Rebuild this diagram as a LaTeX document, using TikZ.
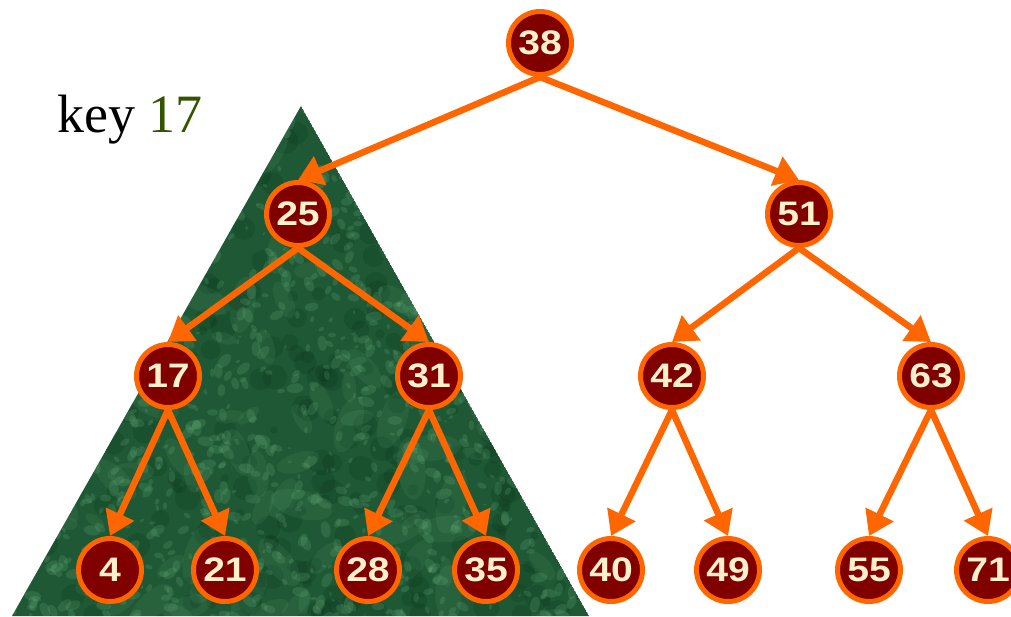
\documentclass[tikz,border=0pt]{standalone}
\usepackage{fontspec}
\setmainfont{Liberation Serif}
\newfontfamily\numfont[FakeStretch=1.15]{Liberation Sans}
\usetikzlibrary{arrows.meta}
\definecolor{nodefill}{RGB}{128,0,0}
\definecolor{nodeline}{RGB}{255,102,0}
\definecolor{numtext}{RGB}{255,240,205}
\definecolor{keygreen}{RGB}{50,85,0}
\definecolor{marbledark}{RGB}{30,88,52}
\definecolor{marblelight}{RGB}{120,190,140}
\definecolor{marbledeep}{RGB}{10,52,26}
\pgfdeclarelayer{tri}
\pgfdeclarelayer{edges}
\pgfsetlayers{tri,edges,main}
\tikzset{
  bst/.style={circle, minimum size=63pt, inner sep=0pt, fill=nodefill, draw=nodeline,
    line width=5pt, text=numtext, font=\numfont\bfseries\fontsize{34}{34}\selectfont},
  link/.style={draw=nodeline, line width=6.5pt, -{Triangle[length=24pt,width=30pt]}},
}
\begin{document}
\begin{tikzpicture}[x=1pt,y=-1pt]
\useasboundingbox (0,0) rectangle (1011,616);
% tree nodes
\node[bst] (n38) at (540,43) {38};
\node[bst] (n25) at (298,214) {25};
\node[bst] (n51) at (799,214) {51};
\node[bst] (n17) at (168,376) {17};
\node[bst] (n31) at (429,376) {31};
\node[bst] (n42) at (672,376) {42};
\node[bst] (n63) at (931,376) {63};
\node[bst] (n4) at (110,570) {4};
\node[bst] (n21) at (225,570) {21};
\node[bst] (n28) at (368,570) {28};
\node[bst] (n35) at (486,570) {35};
\node[bst] (n40) at (611,570) {40};
\node[bst] (n49) at (728,570) {49};
\node[bst] (n55) at (869,570) {55};
\node[bst] (n71) at (988,570) {71};
% label
\node[anchor=base west, inner sep=0pt, font=\fontsize{54}{54}\selectfont] (key) at (57,132) {key \textcolor{keygreen}{17}};
% marble triangle
\begin{pgfonlayer}{tri}
\coordinate (apex) at (301,106);
\coordinate (bl) at (12,616);
\coordinate (br) at (589,616);
\begin{scope}
\clip (apex) -- (bl) -- (br) -- cycle;
\fill[marbledark] (apex) -- (bl) -- (br) -- cycle;
\pgfmathsetseed{17}
\foreach \i in {1,...,400} {
  \pgfmathsetmacro{\rx}{10+580*rnd}
  \pgfmathsetmacro{\ry}{100+520*rnd}
  \pgfmathsetmacro{\rr}{3+10*rnd}
  \fill[marbledeep, opacity=0.22] (\rx,\ry) circle (\rr);
}
\foreach \i in {1,...,160} {
  \pgfmathsetmacro{\rx}{10+580*rnd}
  \pgfmathsetmacro{\ry}{100+520*rnd}
  \pgfmathsetmacro{\rr}{6+12*rnd}
  \pgfmathsetmacro{\ra}{180*rnd}
  \fill[marblelight, opacity=0.10, rotate around={\ra:(\rx,\ry)}] (\rx,\ry) ellipse ({\rr*1.8} and {\rr*0.8});
}
\foreach \i in {1,...,1300} {
  \pgfmathsetmacro{\rx}{10+580*rnd}
  \pgfmathsetmacro{\ry}{100+520*rnd}
  \pgfmathsetmacro{\rr}{1+4*rnd}
  \pgfmathsetmacro{\ra}{180*rnd}
  \fill[marblelight, opacity=0.18, rotate around={\ra:(\rx,\ry)}] (\rx,\ry) ellipse ({\rr*1.7} and {\rr});
}
\end{scope}
\end{pgfonlayer}
% connectors
\begin{pgfonlayer}{edges}
\draw[link] (n38.south) -- (n25.north);
\draw[link] (n38.south) -- (n51.north);
\draw[link] (n25.south) -- (n17.north);
\draw[link] (n25.south) -- (n31.north);
\draw[link] (n51.south) -- (n42.north);
\draw[link] (n51.south) -- (n63.north);
\draw[link] (n17.south) -- (n4.north);
\draw[link] (n17.south) -- (n21.north);
\draw[link] (n31.south) -- (n28.north);
\draw[link] (n31.south) -- (n35.north);
\draw[link] (n42.south) -- (n40.north);
\draw[link] (n42.south) -- (n49.north);
\draw[link] (n63.south) -- (n55.north);
\draw[link] (n63.south) -- (n71.north);
\end{pgfonlayer}
\end{tikzpicture}
\end{document}
